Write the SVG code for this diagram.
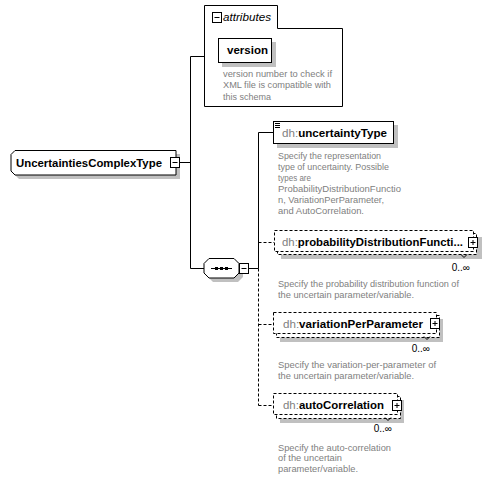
<svg xmlns="http://www.w3.org/2000/svg" width="492" height="479" viewBox="0 0 492 479">
<style>
.ln{stroke:#000;stroke-width:1;fill:none}
.dl{stroke:#000;stroke-width:1;fill:none;stroke-dasharray:3,2}
.box{fill:#fff;stroke:#000;stroke-width:1}
.dbox{fill:#fff;stroke:#000;stroke-width:1;stroke-dasharray:3,2}
.sh{fill:#c0c0c0}
.lbl{font-family:"Liberation Sans",Arial,sans-serif;font-size:11px;font-weight:bold;fill:#000}
.pfx{font-weight:normal;fill:#808080}
.desc{font-family:"Liberation Sans",Arial,sans-serif;font-size:9px;fill:#808080}
.occ{font-family:"Liberation Sans",Arial,sans-serif;font-size:10px;fill:#000;text-anchor:end}
</style>
<g id="connectors">
<path class="ln" d="M180,162.5H190.5M190.5,56.5V268.5M190.5,56.5H204M190.5,268.5H204M249,268.5H258.5M258.5,132.5V268.5M258.5,132.5H273"/>
<path class="dl" d="M258.5,242.5H274M258.5,268.5V405.5M258.5,324.5H273M258.5,405.5H273"/>
</g>
<g id="UncertaintiesComplexType">
<polygon class="sh" points="19,154 180,154 180,179 19,179 15,175 15,158"/>
<polygon class="box" points="15,150.5 176,150.5 176,175 15,175 11,171 11,154.5"/>
<text class="lbl" x="16" y="166.5" textLength="146" lengthAdjust="spacingAndGlyphs">UncertaintiesComplexType</text>
<rect x="170.5" y="157.5" width="9" height="10" fill="#fff" stroke="#000"/>
<path class="ln" d="M172.5,162.5H177.5"/>
</g>
<g id="attributes">
<path class="box" d="M204.5,106.5V5.5H277.5V28.5H342.5V106.5Z"/>
<rect x="212.5" y="12.5" width="9" height="10" fill="#fff" stroke="#000"/>
<path class="ln" d="M214.5,17.5H219.5"/>
<text x="223" y="21" font-family="'Liberation Sans',Arial,sans-serif" font-size="11" font-style="italic" textLength="48" lengthAdjust="spacingAndGlyphs">attributes</text>
</g>
<g id="version">
<rect class="sh" x="222" y="42" width="54" height="25"/>
<rect class="box" x="218.5" y="38.5" width="53" height="24"/>
<text class="lbl" x="227" y="54" textLength="41" lengthAdjust="spacingAndGlyphs">version</text>
<text class="desc" x="223" y="76.5" textLength="109" lengthAdjust="spacingAndGlyphs">version number to check if</text>
<text class="desc" x="223" y="88" textLength="108" lengthAdjust="spacingAndGlyphs">XML file is compatible with</text>
<text class="desc" x="223" y="99.5" textLength="48" lengthAdjust="spacingAndGlyphs">this schema</text>
</g>
<g id="sequence">
<polygon class="sh" points="213,262 238,262 243,267 243,277 238,282 213,282 208,277 208,267"/>
<polygon class="box" points="209,258.5 234,258.5 239,263.5 239,273 234,278 209,278 204,273 204,263.5"/>
<path class="ln" d="M211,268.5H232"/>
<rect x="215" y="267" width="3" height="3" fill="#000"/>
<rect x="220" y="267" width="3" height="3" fill="#000"/>
<rect x="225" y="267" width="3" height="3" fill="#000"/>
<rect x="239.5" y="263.5" width="9" height="10" fill="#fff" stroke="#000"/>
<path class="ln" d="M241.5,268.5H246.5"/>
</g>
<g id="uncertaintyType">
<rect class="sh" x="277" y="125" width="121" height="23"/>
<rect class="box" x="273.5" y="121.5" width="120" height="22"/>
<path class="ln" d="M275,123.5H280M275,125.5H280M275,127.5H280"/>
<text class="lbl" x="282" y="137" textLength="105" lengthAdjust="spacingAndGlyphs"><tspan class="pfx">dh:</tspan>uncertaintyType</text>
<text class="desc" x="278" y="158.5" textLength="103" lengthAdjust="spacingAndGlyphs">Specify the representation</text>
<text class="desc" x="278" y="169.5" textLength="111" lengthAdjust="spacingAndGlyphs">type of uncertainty. Possible</text>
<text class="desc" x="278" y="180.5" textLength="33" lengthAdjust="spacingAndGlyphs">types are</text>
<text class="desc" x="278" y="192" textLength="123" lengthAdjust="spacingAndGlyphs">ProbabilityDistributionFunctio</text>
<text class="desc" x="278" y="203" textLength="106" lengthAdjust="spacingAndGlyphs">n, VariationPerParameter,</text>
<text class="desc" x="278" y="214" textLength="86" lengthAdjust="spacingAndGlyphs">and AutoCorrelation.</text>
</g>
<g id="probabilityDistributionFunction">
<rect class="sh" x="281" y="237" width="201" height="22"/>
<rect class="dbox" x="277.5" y="233.5" width="199" height="21"/>
<rect class="dbox" x="274.5" y="230.5" width="199" height="21"/>
<text class="lbl" x="282" y="246" textLength="181" lengthAdjust="spacingAndGlyphs"><tspan class="pfx">dh:</tspan>probabilityDistributionFuncti...</text>
<rect x="468.5" y="237.5" width="9" height="10" fill="#fff" stroke="#000"/>
<path class="ln" d="M470.5,242.5H475.5M473,240V245"/>
<path class="ln" d="M461,254.5L464,257.5L467,254.5"/>
<text class="occ" x="470" y="271">0..∞</text>
<text class="desc" x="278" y="286.5" textLength="181" lengthAdjust="spacingAndGlyphs">Specify the probability distribution function of</text>
<text class="desc" x="278" y="297.5" textLength="136" lengthAdjust="spacingAndGlyphs">the uncertain parameter/variable.</text>
</g>
<g id="variationPerParameter">
<rect class="sh" x="280" y="319" width="163" height="23"/>
<rect class="dbox" x="276.5" y="315.5" width="163" height="22"/>
<rect class="dbox" x="273.5" y="312.5" width="163" height="21"/>
<text class="lbl" x="283" y="328" textLength="140" lengthAdjust="spacingAndGlyphs"><tspan class="pfx">dh:</tspan>variationPerParameter</text>
<rect x="430.5" y="318.5" width="9" height="10" fill="#fff" stroke="#000"/>
<path class="ln" d="M432.5,323.5H437.5M435,321V326"/>
<path class="ln" d="M424,336.5L427,339.5L430,336.5"/>
<text class="occ" x="430" y="352">0..∞</text>
<text class="desc" x="278" y="367.5" textLength="158" lengthAdjust="spacingAndGlyphs">Specify the variation-per-parameter of</text>
<text class="desc" x="278" y="379" textLength="136" lengthAdjust="spacingAndGlyphs">the uncertain parameter/variable.</text>
</g>
<g id="autoCorrelation">
<rect class="sh" x="280" y="400" width="124" height="23"/>
<rect class="dbox" x="276.5" y="396.5" width="124" height="22"/>
<rect class="dbox" x="273.5" y="393.5" width="124" height="21"/>
<text class="lbl" x="283" y="409" textLength="101" lengthAdjust="spacingAndGlyphs"><tspan class="pfx">dh:</tspan>autoCorrelation</text>
<rect x="392.5" y="400.5" width="9" height="10" fill="#fff" stroke="#000"/>
<path class="ln" d="M394.5,405.5H399.5M397,403V408"/>
<path class="ln" d="M385,417.5L388,420.5L391,417.5"/>
<text class="occ" x="392" y="432">0..∞</text>
<text class="desc" x="278" y="450.5" textLength="113" lengthAdjust="spacingAndGlyphs">Specify the auto-correlation</text>
<text class="desc" x="278" y="461" textLength="64" lengthAdjust="spacingAndGlyphs">of the uncertain</text>
<text class="desc" x="278" y="471.5" textLength="80" lengthAdjust="spacingAndGlyphs">parameter/variable.</text>
</g>
</svg>
